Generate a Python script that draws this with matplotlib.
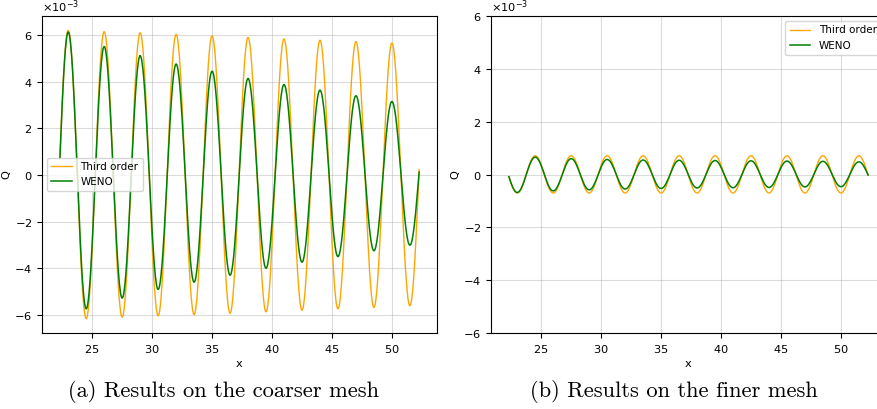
import matplotlib
matplotlib.use("Agg")
import matplotlib.pyplot as plt
import numpy as np
from matplotlib.ticker import ScalarFormatter

# ---- data (Q in units of 1e-3) ----
# coarser mesh: peaks at x = 23, 26, ..., 50; troughs at x = 24.5, 27.5, ..., 51.5
coarse_peak_x = [23.0, 26.0, 29.0, 32.0, 35.0, 38.0, 41.0, 44.0, 47.0, 50.0]
coarse_trough_x = [24.5, 27.5, 30.5, 33.5, 36.5, 39.5, 42.5, 45.5, 48.5, 51.5]
coarse_third_peaks = [6.20, 6.15, 6.10, 6.03, 5.97, 5.90, 5.84, 5.78, 5.72, 5.66]
coarse_third_troughs = [-6.16, -6.10, -6.04, -5.99, -5.93, -5.87, -5.80, -5.74, -5.68, -5.61]
coarse_weno_peaks = [6.13, 5.51, 5.11, 4.76, 4.45, 4.14, 3.88, 3.64, 3.40, 3.15]
coarse_weno_troughs = [-5.74, -5.28, -4.91, -4.60, -4.30, -4.00, -3.74, -3.50, -3.25, -3.01]

# finer mesh: troughs at x = 23, 26, ..., 50; peaks at x = 24.5, ..., 51.5
fine_trough_x = [23.0, 26.0, 29.0, 32.0, 35.0, 38.0, 41.0, 44.0, 47.0, 50.0]
fine_peak_x = [24.5, 27.5, 30.5, 33.5, 36.5, 39.5, 42.5, 45.5, 48.5, 51.5]
fine_third_troughs = [-0.70, -0.70, -0.70, -0.70, -0.70, -0.70, -0.70, -0.70, -0.70, -0.70]
fine_third_peaks = [0.71, 0.71, 0.71, 0.71, 0.71, 0.71, 0.71, 0.71, 0.71, 0.71]
fine_weno_troughs = [-0.68, -0.62, -0.58, -0.55, -0.53, -0.51, -0.50, -0.49, -0.47, -0.46]
fine_weno_peaks = [0.66, 0.60, 0.57, 0.55, 0.54, 0.53, 0.52, 0.51, 0.50, 0.48]

x_start = 22.3
x_end = 52.28

labels = ["Third order", "WENO"]
colors = ["orange", "green"]
captions = ["(a) Results on the coarser mesh", "(b) Results on the finer mesh"]


def wave(ext_x, ext_y, x0, x1, n=40):
    # smooth half-cosine segments between the read extrema
    ext_x = list(ext_x)
    ext_y = list(ext_y)
    ext_x = [ext_x[0] - 1.5] + ext_x + [ext_x[-1] + 1.5]
    ext_y = [-ext_y[0]] + ext_y + [-ext_y[-1]]
    xs, ys = [], []
    for i in range(len(ext_x) - 1):
        t = np.linspace(0, 1, n)
        a, b = ext_y[i], ext_y[i + 1]
        xs.append(ext_x[i] + t * (ext_x[i + 1] - ext_x[i]))
        ys.append((a + b) / 2 + (a - b) / 2 * np.cos(np.pi * t))
    xs = np.concatenate(xs)
    ys = np.concatenate(ys)
    m = (xs >= x0) & (xs <= x1)
    return xs[m], ys[m] * 1e-3


def merge(px, py, tx, ty):
    ex = np.array(px + tx)
    ey = np.array(py + ty)
    o = np.argsort(ex)
    return ex[o], ey[o]


coarse_series = [merge(coarse_peak_x, coarse_third_peaks, coarse_trough_x, coarse_third_troughs),
                 merge(coarse_peak_x, coarse_weno_peaks, coarse_trough_x, coarse_weno_troughs)]
fine_series = [merge(fine_peak_x, fine_third_peaks, fine_trough_x, fine_third_troughs),
               merge(fine_peak_x, fine_weno_peaks, fine_trough_x, fine_weno_troughs)]

plt.rcParams['font.size'] = 8.2
plt.rcParams['axes.formatter.use_mathtext'] = True

fig = plt.figure(figsize=(8.78, 4.09), dpi=100)
ax1 = fig.add_axes([0.0478, 0.1858, 0.45, 0.775])
ax2 = fig.add_axes([0.5592, 0.1858, 0.45, 0.775])

for ax, series, loc in [(ax1, coarse_series, 'center left'), (ax2, fine_series, 'upper right')]:
    for (ex, ey), lab, col, lw in zip(series, labels, colors, [1.0, 1.1]):
        xs, ys = wave(ex, ey, x_start, x_end)
        ax.plot(xs, ys, color=col, lw=lw, label=lab)
    ax.grid(True, alpha=0.45)
    ax.set_xlabel('x', labelpad=3)
    ax.set_ylabel('Q', labelpad=2)
    fmt = ScalarFormatter(useMathText=True)
    fmt.set_powerlimits((-3, -3))
    ax.yaxis.set_major_formatter(fmt)
    ax.legend(loc=loc, fontsize=7.5)

ax1.set_xticks([25, 30, 35, 40, 45, 50])
ax2.set_xticks([25, 30, 35, 40, 45, 50])
ax2.set_xlim(ax1.get_xlim())
ax2.set_ylim(-6e-3, 6e-3)

fig.text(0.255, 0.042, captions[0], family='cmr10', fontsize=16.2, ha='center', va='center')
fig.text(0.767, 0.042, captions[1], family='cmr10', fontsize=16.2, ha='center', va='center')

plt.savefig('out.png', dpi=100)
